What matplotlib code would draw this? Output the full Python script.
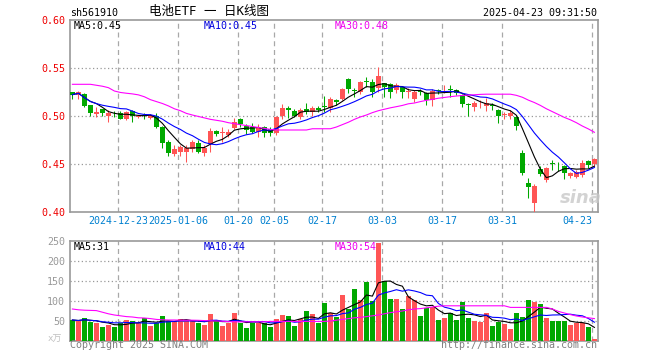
import matplotlib.pyplot as plt
import numpy as np
import pandas as pd

plt.rcParams['font.family'] = ['DejaVu Sans Mono', 'Noto Sans CJK SC']

# daily candles 2024-12-11 .. 2025-04-23 (88 trading days)
opens = [0.5245, 0.5217, 0.522, 0.511, 0.5017, 0.5065, 0.500, 0.502, 0.5023, 0.4965,
         0.505, 0.498, 0.500, 0.4978, 0.4995, 0.4883, 0.4727, 0.460, 0.4623, 0.4624,
         0.4655, 0.4717, 0.4613, 0.4703, 0.4842, 0.4815, 0.4797, 0.4867, 0.4964, 0.4893,
         0.4883, 0.4825, 0.4883, 0.4856, 0.482, 0.499, 0.5082, 0.5047, 0.4981, 0.5065,
         0.504, 0.5082, 0.5095, 0.5075, 0.5161, 0.517, 0.538, 0.5265, 0.5242, 0.5355,
         0.5353, 0.5285, 0.5336, 0.5328, 0.5266, 0.5294, 0.5245, 0.5172, 0.5255, 0.5237,
         0.5162, 0.5262, 0.5262, 0.527, 0.5265, 0.5214, 0.5115, 0.5085, 0.5115, 0.510,
         0.5108, 0.5058, 0.5003, 0.4995, 0.4988, 0.4606, 0.4294, 0.4092, 0.444, 0.4328,
         0.4502, 0.4495, 0.4474, 0.4365, 0.4363, 0.438, 0.4526, 0.4495]
highs = [0.5245, 0.526, 0.523, 0.511, 0.509, 0.507, 0.5057, 0.505, 0.505, 0.505,
         0.506, 0.501, 0.503, 0.502, 0.5023, 0.489, 0.4745, 0.4693, 0.4693, 0.4695,
         0.4745, 0.4745, 0.469, 0.4867, 0.4847, 0.488, 0.4855, 0.4975, 0.497, 0.4915,
         0.492, 0.4911, 0.4895, 0.488, 0.500, 0.5125, 0.510, 0.5065, 0.5075, 0.513,
         0.510, 0.5097, 0.5205, 0.5195, 0.5172, 0.529, 0.5388, 0.529, 0.5355, 0.5405,
         0.5377, 0.551, 0.5342, 0.5338, 0.5335, 0.5301, 0.5283, 0.5266, 0.5275, 0.5248,
         0.5273, 0.528, 0.532, 0.532, 0.528, 0.5224, 0.5134, 0.5155, 0.5162, 0.518,
         0.5127, 0.5065, 0.504, 0.5058, 0.4995, 0.464, 0.4346, 0.4287, 0.4475, 0.4467,
         0.4537, 0.452, 0.4485, 0.4415, 0.4432, 0.4537, 0.4537, 0.4554]
lows = [0.517, 0.517, 0.509, 0.499, 0.4988, 0.500, 0.4935, 0.4985, 0.496, 0.4955,
        0.4935, 0.497, 0.4965, 0.496, 0.4867, 0.4665, 0.458, 0.4575, 0.4575, 0.452,
        0.4625, 0.461, 0.4575, 0.4615, 0.4785, 0.472, 0.4775, 0.4855, 0.4885, 0.4805,
        0.4815, 0.478, 0.478, 0.4785, 0.4795, 0.496, 0.4975, 0.498, 0.4964, 0.5016,
        0.4995, 0.5035, 0.5035, 0.504, 0.5105, 0.5165, 0.5232, 0.519, 0.5225, 0.530,
        0.519, 0.525, 0.5196, 0.5185, 0.523, 0.5185, 0.5183, 0.514, 0.5215, 0.511,
        0.510, 0.5225, 0.523, 0.5196, 0.5215, 0.5092, 0.499, 0.505, 0.5075, 0.505,
        0.5055, 0.492, 0.496, 0.496, 0.485, 0.438, 0.414, 0.3995, 0.4365, 0.431,
        0.4432, 0.4425, 0.4335, 0.4353, 0.4345, 0.4363, 0.445, 0.4475]
closes = [0.5217, 0.5245, 0.510, 0.5023, 0.5035, 0.5023, 0.5023, 0.5012, 0.4968, 0.504,
          0.499, 0.4995, 0.4993, 0.5005, 0.4885, 0.4711, 0.4613, 0.4648, 0.4668, 0.466,
          0.472, 0.4625, 0.466, 0.4842, 0.481, 0.482, 0.483, 0.4935, 0.491, 0.4845,
          0.4825, 0.4865, 0.4815, 0.482, 0.4988, 0.5075, 0.5057, 0.4995, 0.5057, 0.504,
          0.5075, 0.5057, 0.5085, 0.517, 0.5145, 0.528, 0.5275, 0.5255, 0.5345, 0.535,
          0.525, 0.5415, 0.5295, 0.524, 0.5318, 0.524, 0.525, 0.5248, 0.525, 0.5162,
          0.5258, 0.5258, 0.5268, 0.5265, 0.5238, 0.512, 0.511, 0.5127, 0.512, 0.5127,
          0.5095, 0.499, 0.5005, 0.503, 0.4891, 0.440, 0.4255, 0.4266, 0.4392, 0.445,
          0.4495, 0.449, 0.440, 0.4405, 0.4415, 0.4509, 0.4485, 0.4544]
# volume in 万
volumes = [52.5, 50, 57, 47.5, 46, 35, 40, 35, 46, 52.5, 50, 44, 57, 37.5, 46, 62.5,
           49, 48, 55, 52.5, 49, 45, 40, 67.5, 52.5, 37.5, 45, 70, 45, 33, 45, 45, 45,
           35, 55, 66, 62.5, 37.5, 56, 76, 67.5, 45, 95, 69, 61, 115, 80, 130, 102.5,
           147.5, 101, 246, 150, 105, 105, 79, 112.5, 102.5, 62.5, 83, 86, 52.5, 58, 69,
           52.5, 97.5, 58, 50, 47.5, 70, 37.5, 47.5, 41.7, 31, 70, 60, 102.5, 97.5, 92.5,
           57.5, 50, 50, 50, 40, 45, 45, 35, 5]
# 30-day averages as drawn (they reach back before the visible window)
price_ma30 = [0.5325, 0.5325, 0.5325, 0.5325, 0.5315, 0.5305, 0.529, 0.5255, 0.524, 0.5232,
              0.5225, 0.5215, 0.5195, 0.5165, 0.5145, 0.5125, 0.510, 0.507, 0.505, 0.5022,
              0.5005, 0.499, 0.4975, 0.496, 0.495, 0.494, 0.4925, 0.4915, 0.4905, 0.4895,
              0.4885, 0.4875, 0.4866, 0.4855, 0.4849, 0.4849, 0.4849, 0.4849, 0.4849, 0.4849,
              0.4862, 0.4862, 0.4862, 0.4862, 0.488, 0.4905, 0.493, 0.496, 0.4985, 0.5005,
              0.503, 0.505, 0.5065, 0.508, 0.5092, 0.5105, 0.5122, 0.513, 0.5145, 0.5158,
              0.5168, 0.518, 0.5188, 0.5196, 0.5203, 0.5208, 0.5213, 0.5216, 0.522, 0.5222,
              0.5222, 0.5222, 0.5222, 0.5222, 0.521, 0.519, 0.516, 0.5135, 0.5105, 0.507,
              0.504, 0.501, 0.498, 0.4955, 0.4925, 0.489, 0.486, 0.4825]
vol_ma30 = [80, 78, 77, 76.5, 76, 72, 68, 65, 63, 61, 60, 58, 57.5, 56, 54, 53, 52.5,
            52.5, 52, 52, 52, 51.7, 51, 50.5, 50, 49.5, 48.5, 48, 48, 48, 48, 48, 48, 49,
            49, 49, 49, 49, 49, 49, 49, 49, 49, 50, 52, 54, 56, 58, 59, 61, 63, 65, 68,
            71, 73, 75, 78, 80, 81, 83, 85, 87, 88, 88, 88, 88, 88, 88, 88, 88, 88, 88,
            88, 84, 84, 84, 84, 84, 84, 84, 80, 74, 70, 66, 62.5, 60, 58, 56]

grid_days = [8, 18, 28, 34, 42, 52, 62, 72, 87]
date_labels = ["2024-12-23", "2025-01-06", "01-20", "02-05", "02-17",
               "03-03", "03-17", "03-31", "04-23"]
price_ticks = [0.40, 0.45, 0.50, 0.55, 0.60]
vol_ticks = [50, 100, 150, 200, 250]
price_legend = ["MA5:0.45", "MA10:0.45", "MA30:0.48"]
vol_legend = ["MA5:31", "MA10:44", "MA30:54"]

RED = '#ff5555'
GREEN = '#00a800'
MA_COLORS = ['black', '#0000ff', '#ff00ff']
LEGEND_COLORS = ['black', '#0000dd', '#ee00ee']
W, H = 660, 360

fig = plt.figure(figsize=(W / 100, H / 100), dpi=100)


def px_axes(x0, y0, x1, y1):
    return fig.add_axes([x0 / W, 1 - y1 / H, (x1 - x0) / W, (y1 - y0) / H])


ax = px_axes(70, 19.5, 598, 211.5)
axv = px_axes(70, 241, 598, 341)

x = np.arange(len(closes))
o, h, l, c = map(np.array, (opens, highs, lows, closes))
colors = np.where(c >= o, RED, GREEN)

# candles
ax.vlines(x, l, h, colors=colors, linewidth=0.75, zorder=3)
body = np.maximum(np.abs(c - o), 0.0008)
ax.bar(x, body, bottom=np.minimum(o, c), width=0.78, color=colors, linewidth=0, zorder=3)

s = pd.Series(closes)
ax.plot(x, s.rolling(5, min_periods=1).mean(), color=MA_COLORS[0], lw=0.8, zorder=4)
ax.plot(x, s.rolling(10, min_periods=1).mean(), color=MA_COLORS[1], lw=0.8, zorder=4)
ax.plot(x, price_ma30, color=MA_COLORS[2], lw=0.8, zorder=4)

# volume
axv.bar(x, volumes, width=0.83, color=colors, linewidth=0, zorder=3)
sv = pd.Series(volumes)
axv.plot(x, sv.rolling(5, min_periods=1).mean(), color=MA_COLORS[0], lw=0.8, zorder=4)
axv.plot(x, sv.rolling(10, min_periods=1).mean(), color=MA_COLORS[1], lw=0.8, zorder=4)
axv.plot(x, vol_ma30, color=MA_COLORS[2], lw=0.8, zorder=4)

for a in (ax, axv):
    a.set_xlim(-0.4, 87.6)
    a.set_xticks([])
    for sp in a.spines.values():
        sp.set_color('#999999')
        sp.set_linewidth(1.2)
    for d in grid_days:
        a.axvline(d - 0.35, color='#a8a8a8', lw=0.9, ls=(0, (4, 3)), zorder=1)
    a.tick_params(axis='y', length=0, pad=3.5, labelsize=7.2)

ax.set_ylim(0.40, 0.60)
ax.set_yticks(price_ticks)
ax.set_yticklabels([f"{v:.2f}" for v in price_ticks], color='#ee0000')
for v in price_ticks[1:-1]:
    ax.axhline(v, color='#999999', lw=0.9, ls=(0, (1, 2)), zorder=1)

axv.set_ylim(0, 250)
axv.set_yticks(vol_ticks)
axv.set_yticklabels([str(v) for v in vol_ticks], color='#999999')
for v in vol_ticks[:-1]:
    axv.axhline(v, color='#999999', lw=0.9, ls=(0, (1, 2)), zorder=1)

# date labels under price panel (later label covers the earlier one)
for d, lab in zip(grid_days, date_labels):
    last = d == grid_days[-1]
    ax.text(d - 0.35, -0.05, lab, transform=ax.get_xaxis_transform(),
            ha='right' if last else 'center', va='center', fontsize=7.2,
            color='#0080d0', bbox=dict(facecolor='white', edgecolor='none', pad=1.2))

# legends
for xp, lab, col in zip([74, 204, 335], price_legend, LEGEND_COLORS):
    fig.text(xp / W, 1 - 26 / H, lab, color=col, fontsize=7.2, va='center')
for xp, lab, col in zip([74, 204, 335], vol_legend, LEGEND_COLORS):
    fig.text(xp / W, 1 - 246.5 / H, lab, color=col, fontsize=7.2, va='center')

# header and footer
fig.text(70 / W, 1 - 13 / H, "sh561910", fontsize=7.2, va='center')
fig.text(209 / W, 1 - 12 / H, "电池ETF 一 日K线图", fontsize=9, va='center', ha='center')
fig.text(597 / W, 1 - 13 / H, "2025-04-23 09:31:50", fontsize=7.2, va='center', ha='right')
fig.text(48 / W, 1 - 339 / H, "x万", fontsize=6.5, va='center', color='#c0c0c0')
fig.text(70 / W, 1 - 345.5 / H, "Copyright 2025 SINA.COM", fontsize=7.2, va='center',
         color='#808080')
fig.text(597 / W, 1 - 345.5 / H, "http://finance.sina.com.cn", fontsize=7.2, va='center',
         ha='right', color='#808080')
fig.text(581 / W, 1 - 198 / H, "sina", fontsize=13, style='italic', weight='bold',
         family='DejaVu Sans', color='#c8c8c8', alpha=0.8, va='center', ha='center')

fig.savefig('out.png', dpi=100)
